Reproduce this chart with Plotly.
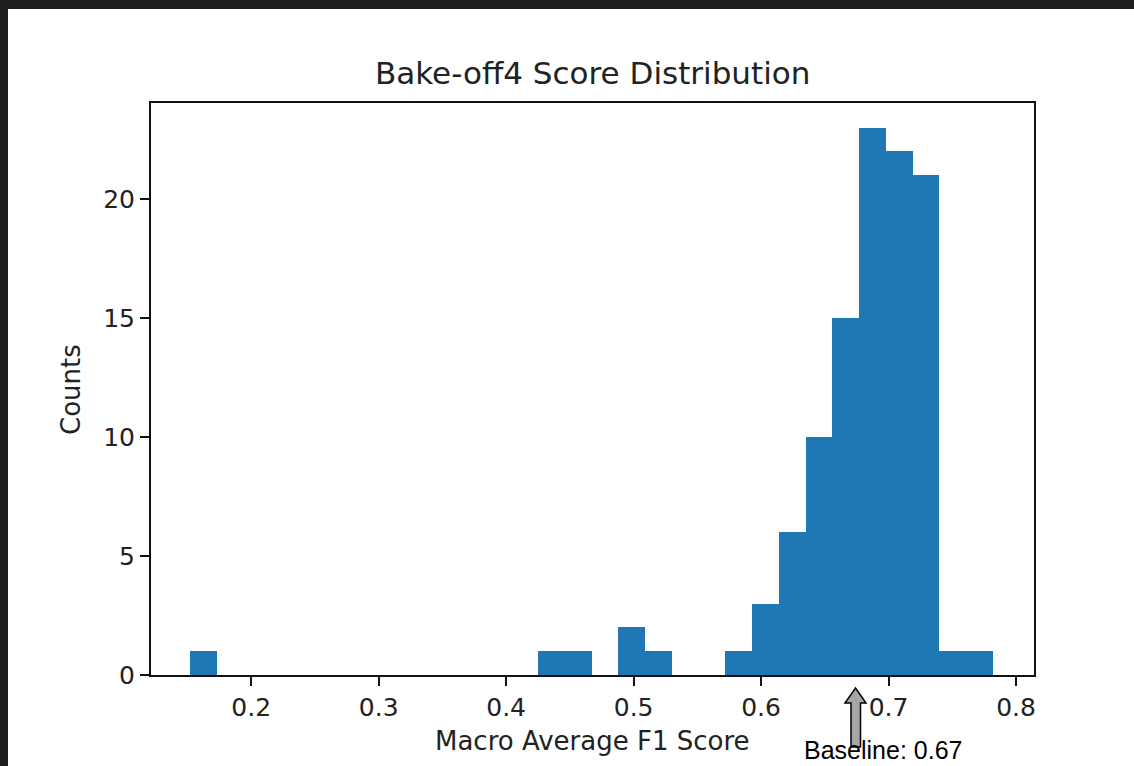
import plotly.graph_objects as go

# ---- data ----
bin_start = 0.1522
bin_width = 0.02099
counts = [1, 0, 0, 0, 0, 0, 0, 0, 0, 0, 0, 0, 0, 1, 1, 0, 2, 1, 0, 0,
          1, 3, 6, 10, 15, 23, 22, 21, 1, 1]
x_ticks = [0.2, 0.3, 0.4, 0.5, 0.6, 0.7, 0.8]
x_tick_labels = ["0.2", "0.3", "0.4", "0.5", "0.6", "0.7", "0.8"]
y_ticks = [0, 5, 10, 15, 20]
y_tick_labels = ["0", "5", "10", "15", "20"]
title_text = "Bake-off4 Score Distribution"
x_label = "Macro Average F1 Score"
y_label = "Counts"
baseline_text = "Baseline: 0.67"

centers = [bin_start + bin_width * (i + 0.5) for i in range(len(counts))]

W, H = 1134, 766
L, R, T, B = 151, 1034, 103, 675


def px2x(px):
    return (px - L) / (R - L)


def px2y(py):
    return (B - py) / (B - T)


fig = go.Figure()
fig.add_trace(go.Bar(
    x=centers, y=counts, width=[bin_width] * len(counts),
    marker=dict(color="#1f77b4", line=dict(width=0)),
    hoverinfo="x+y",
))

tick_font = dict(family="DejaVu Sans", size=25, color="#222222")
axis_common = dict(
    showgrid=False, zeroline=False,
    showline=True, linecolor="#111111", linewidth=2, mirror=True,
    ticks="outside", ticklen=9, tickwidth=2, tickcolor="#111111",
    tickfont=tick_font,
)

fig.update_layout(
    width=W, height=H,
    margin=dict(l=L, r=W - R, t=T, b=H - B, pad=0),
    paper_bgcolor="white", plot_bgcolor="white",
    bargap=0, showlegend=False,
    xaxis=dict(range=[0.1214, 0.8141], tickvals=x_ticks, ticktext=x_tick_labels,
               **axis_common),
    yaxis=dict(range=[0, 24.03], tickvals=y_ticks, ticktext=y_tick_labels,
               **axis_common),
)

annotations = [
    dict(text=title_text, x=0.5, y=px2y(73.5), xref="paper", yref="paper",
         xanchor="center", yanchor="middle", showarrow=False,
         font=dict(family="DejaVu Sans", size=31, color="#222222")),
    dict(text=x_label, x=px2x(592), y=px2y(741), xref="paper", yref="paper",
         xanchor="center", yanchor="middle", showarrow=False,
         font=dict(family="DejaVu Sans", size=26, color="#222222")),
    dict(text=y_label, x=px2x(71), y=px2y(390), xref="paper", yref="paper",
         xanchor="center", yanchor="middle", showarrow=False, textangle=-90,
         font=dict(family="DejaVu Sans", size=26, color="#222222")),
    dict(text=baseline_text, x=px2x(802), y=px2y(750), xref="paper", yref="paper",
         xanchor="left", yanchor="middle", showarrow=False,
         font=dict(family="Liberation Sans", size=25, color="#000000")),
]
fig.update_layout(annotations=annotations)

# dark frame on top and left edges
shapes = [
    dict(type="rect", xref="paper", yref="paper",
         x0=px2x(-20), x1=px2x(8), y0=px2y(-20), y1=px2y(H + 20),
         fillcolor="#1f1f1f", line=dict(width=0), layer="above"),
    dict(type="rect", xref="paper", yref="paper",
         x0=px2x(-20), x1=px2x(W + 20), y0=px2y(-20), y1=px2y(9),
         fillcolor="#1f1f1f", line=dict(width=0), layer="above"),
]

# grey block arrow pointing at the baseline
arrow_pts = [(855.5, 688), (866, 703), (860.5, 703), (860.5, 747),
             (851, 747), (851, 703), (845, 703)]
path = "M " + " L ".join(f"{px2x(x):.5f},{px2y(y):.5f}" for x, y in arrow_pts) + " Z"
shapes.append(dict(type="path", xref="paper", yref="paper", path=path,
                   fillcolor="#a6a6a6", line=dict(color="#000000", width=1.5),
                   layer="above"))
fig.update_layout(shapes=shapes)

# remove the default page margin so the figure sits at the window's corner
fig.write_html(
    "out.html",
    config={"displayModeBar": False},
    post_script="document.body.style.margin='0';document.body.style.overflow='hidden';",
)
